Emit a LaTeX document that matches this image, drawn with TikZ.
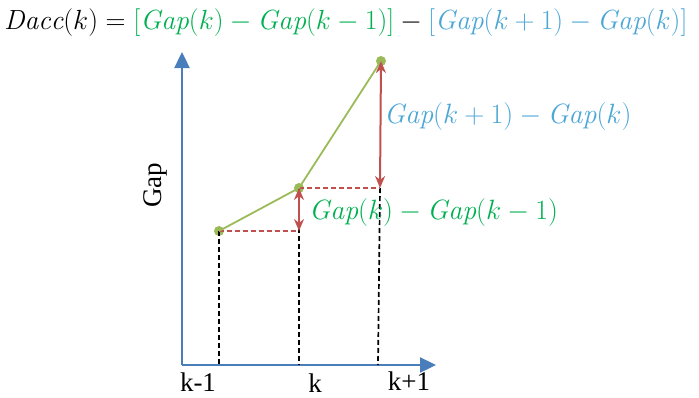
\RequirePackage{fix-cm}
\documentclass[tikz,border=0pt]{standalone}
\usepackage{fontspec}
\newfontfamily\tnr{Liberation Serif}
\usetikzlibrary{arrows.meta}
\definecolor{axisblue}{RGB}{74,126,187}
\definecolor{eqgreen}{RGB}{0,176,80}
\definecolor{eqblue}{RGB}{75,166,214}
\definecolor{linegreen}{RGB}{155,187,89}
\definecolor{dashred}{RGB}{192,80,77}
\tikzset{
  axisline/.style={draw=axisblue,line width=2.4pt,-{Triangle[width=15pt,length=16pt]}},
  datapt/.style={circle,fill=linegreen,inner sep=0pt,minimum size=10pt},
  curve/.style={draw=linegreen,line width=1.8pt},
  reddash/.style={draw=dashred,line width=1.7pt,dash pattern=on 5pt off 3pt},
  blackdash/.style={draw=black,line width=1.7pt,dash pattern=on 5pt off 3pt},
  diffarrow/.style={draw=dashred,line width=2pt,{Stealth[length=12pt,width=10pt]}-{Stealth[length=12pt,width=10pt]}},
  ticklab/.style={font=\tnr\fontsize{27}{30}\selectfont,inner sep=0pt,anchor=base},
  eqlab/.style={font=\fontsize{27.9}{32}\selectfont,inner sep=0pt},
  toplab/.style={font=\fontsize{27.7}{32}\selectfont,inner sep=0pt}
}
\begin{document}
\begin{tikzpicture}[x=1pt,y=-1pt]
\useasboundingbox (0,0) rectangle (699,397);
% axes
\coordinate (O) at (182,365);
\coordinate (ytip) at (182,52);
\coordinate (xtip) at (436,365);
\draw[axisline] (O) -- (ytip);
\draw[axisline] (O) -- (xtip);
% points
\node[datapt] (p1) at (219,231) {};
\node[datapt] (p2) at (299,188) {};
\node[datapt] (p3) at (381,61) {};
% feet on x axis
\coordinate (f1) at (219,365);
\coordinate (f2) at (299,365);
\coordinate (f3) at (378,365);
\coordinate (h1) at (299,231);
\coordinate (h2) at (380,188);
% black dashed verticals
\draw[blackdash] (p1.center) -- (f1);
\draw[blackdash] (p2.center) -- (f2);
\draw[blackdash] (h2) -- (f3);
% red dashed horizontals
\draw[reddash] (p1.center) -- (h1);
\draw[reddash] (p2.center) -- (h2);
% curve
\draw[curve] (p1.center) -- (p2.center) -- (p3.center);
% difference arrows
\draw[diffarrow] (p2.center) -- (h1);
\draw[diffarrow] (p3.center) -- (h2);
% labels
\node[ticklab] (l1) at (198,391) {k-1};
\node[ticklab] (l2) at (315,392) {k};
\node[ticklab] (l3) at (409,390) {k+1};
\node[ticklab,rotate=90,anchor=center] (gap) at (155,185) {Gap};
\node[eqlab,text=eqblue,anchor=west] (d2) at (384,117) {$\mathit{Gap}(k+1)-\mathit{Gap}(k)$};
\node[eqlab,text=eqgreen,anchor=west] (d1) at (309,213) {$\mathit{Gap}(k)-\mathit{Gap}(k-1)$};
\node[toplab,anchor=west] (eq) at (4,23) {$\mathit{Dacc}(k)={\color{eqgreen}[\mathit{Gap}(k)-\mathit{Gap}(k-1)]}-{\color{eqblue}[\mathit{Gap}(k+1)-\mathit{Gap}(k)]}$};
\end{tikzpicture}
\end{document}
